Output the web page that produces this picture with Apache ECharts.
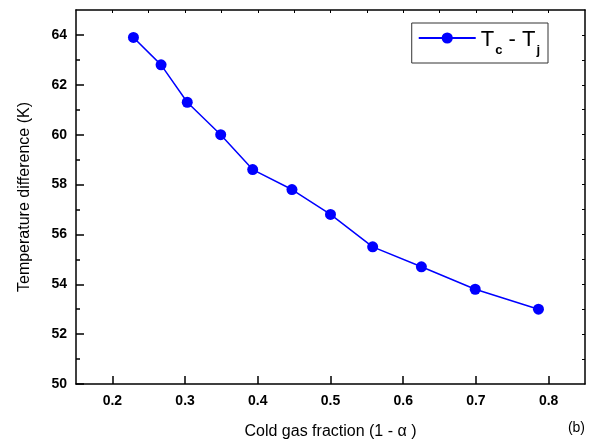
<!DOCTYPE html>
<html><head><meta charset="utf-8">
<script src="https://cdn.jsdelivr.net/npm/echarts@6/dist/echarts.min.js"></script>
<style>html,body{margin:0;padding:0;background:#fff}#c{width:593px;height:445px}</style>
</head><body><div id="c"></div>
<script>
const coldFraction = [0.229, 0.267, 0.303, 0.349, 0.393, 0.447, 0.500, 0.558, 0.625, 0.699, 0.786];
const tempDiff = [63.9, 62.8, 61.3, 60.0, 58.6, 57.8, 56.8, 55.5, 54.7, 53.8, 53.0];
const xTicks = [0.2, 0.3, 0.4, 0.5, 0.6, 0.7, 0.8];
const yTicks = [50, 52, 54, 56, 58, 60, 62, 64];
const topTicks = [0.2, 0.25, 0.3, 0.35, 0.4, 0.45, 0.5, 0.55, 0.6, 0.65, 0.7, 0.75, 0.8];
const rightTicks = [51, 52, 53, 54, 55, 56, 57, 58, 59, 60, 61, 62, 63, 64];

const font = '"Liberation Sans", Arial, sans-serif';
const chart = echarts.init(document.getElementById('c'));
const axisLine = {show: true, onZero: false, lineStyle: {color: '#000', width: 1.5}};
chart.setOption({
  animation: false,
  grid: {left: 76, top: 10, right: 8, bottom: 60},
  legend: {
    right: 45, top: 23,
    orient: 'horizontal',
    borderColor: '#333', borderWidth: 1, padding: [6, 8, 6, 6],
    itemWidth: 57, itemHeight: 14, itemGap: 10,
    formatter: () => '{a|T}{s|c}{a| - T}{s|j}',
    textStyle: {
      rich: {
        a: {fontFamily: font, fontSize: 22, color: '#000', verticalAlign: 'bottom', lineHeight: 26},
        s: {fontFamily: font, fontSize: 13, fontWeight: 'bold', color: '#000', verticalAlign: 'bottom', padding: [0, 0, -6, 1], lineHeight: 26}
      }
    },
    data: ['Tc - Tj']
  },
  xAxis: [{
    type: 'value', min: 0.15, max: 0.85, interval: 0.1,
    axisLine: axisLine,
    axisTick: {show: true, inside: true, length: 8, lineStyle: {color: '#000', width: 1.5},
      customValues: xTicks},
    minorTick: {show: true, splitNumber: 2, length: 4, lineStyle: {color: '#000', width: 1.5}},
    axisLabel: {customValues: xTicks, formatter: v => v.toFixed(1), fontFamily: font, fontSize: 14, fontWeight: 'bold', color: '#000', margin: 10},
    splitLine: {show: false},
    name: 'Cold gas fraction (1 - α )', nameLocation: 'middle', nameGap: 40,
    nameTextStyle: {fontFamily: font, fontSize: 16, color: '#000'}
  }, {
    type: 'value', min: 0.15, max: 0.85, position: 'top',
    axisLine: axisLine,
    axisTick: {show: true, inside: true, length: 3, lineStyle: {color: '#000', width: 1}, customValues: topTicks},
    minorTick: {show: false},
    axisLabel: {show: false}, splitLine: {show: false}
  }],
  yAxis: [{
    type: 'value', min: 50, max: 65, interval: 2,
    axisLine: axisLine,
    axisTick: {show: true, inside: true, length: 8, lineStyle: {color: '#000', width: 1.5}, customValues: yTicks},
    minorTick: {show: true, splitNumber: 2, length: 4, lineStyle: {color: '#000', width: 1.5}},
    axisLabel: {customValues: yTicks, fontFamily: font, fontSize: 14, fontWeight: 'bold', color: '#000', margin: 9},
    splitLine: {show: false},
    name: 'Temperature difference (K)', nameLocation: 'middle', nameGap: 43,
    nameTextStyle: {fontFamily: font, fontSize: 16, color: '#000'}
  }, {
    type: 'value', min: 50, max: 65, position: 'right',
    axisLine: axisLine,
    axisTick: {show: true, inside: true, length: 3, lineStyle: {color: '#000', width: 1}, customValues: rightTicks},
    axisLabel: {show: false}, splitLine: {show: false}
  }],
  graphic: [{
    type: 'text', right: 8, bottom: 10,
    style: {text: '(b)', font: '14px ' + font, fill: '#000'}
  }],
  series: [{
    name: 'Tc - Tj', type: 'line',
    data: coldFraction.map((x, i) => [x, tempDiff[i]]),
    symbol: 'circle', symbolSize: 11,
    itemStyle: {color: '#0000ff'},
    lineStyle: {color: '#0000ff', width: 1.5}
  }]
});
</script></body></html>
